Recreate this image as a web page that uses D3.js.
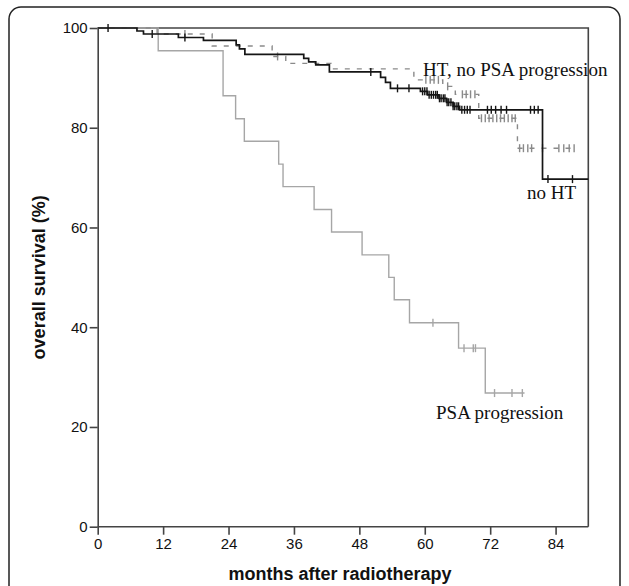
<!DOCTYPE html>
<html>
<head>
<meta charset="UTF-8">
<style>
  body { margin: 0; background: #fff; }
  .axis text { font-family: "Liberation Sans", Arial, sans-serif; font-size: 15px; fill: #111; }
  .axis path, .axis line { stroke: #444; stroke-width: 1.6px; }
  .title { font-family: "Liberation Sans", Arial, sans-serif; font-weight: bold; font-size: 18px; fill: #111; }
  .lbl { font-family: "Liberation Serif", "Times New Roman", serif; font-size: 19px; fill: #111; }
</style>
<script src="https://d3js.org/d3.v7.min.js"></script>
</head>
<body>
<svg width="629" height="586"></svg>
<script>
// month ticks and survival ticks
var xTicks = [0, 12, 24, 36, 48, 60, 72, 84];
var yTicks = [0, 20, 40, 60, 80, 100];

// no HT (black solid): [month, survival %]
var noHtSteps = [[0,100],[7.2,99.4],[8.4,98.8],[14.8,98.1],[19.4,97.5],[25.4,96.6],[26.0,95.8],[27.0,94.7],
  [37.8,93.9],[38.7,93.2],[40.0,92.6],[42.5,91.2],[51.9,90.1],[52.8,89.1],[53.7,87.9],[59.2,87.3],
  [60.5,86.6],[62.6,85.9],[64.0,85.1],[65.2,84.3],[66.4,83.6],[81.6,69.7]];
var noHtEnd = 90;
var noHtCens = [1.9,10.0,16.0,50.1,55.0,57.1,59.6,60.0,60.4,60.8,61.2,61.6,62.0,62.3,62.7,63.0,63.4,63.7,
  64.1,64.4,64.8,65.2,65.5,65.9,66.2,66.8,67.3,67.8,68.3,71.5,72.2,73.0,74.0,75.0,79.4,80.1,80.8,82.6,87.1];

// HT, no PSA progression (gray dashed)
var htSteps = [[0,100],[10.9,98.8],[21.0,96.4],[32.0,94.3],[34.5,92.9],[42.8,91.8],[58.0,89.6],
  [63.3,88.3],[65.6,86.7],[69.9,81.9],[77.0,75.9]];
var htEnd = 87.6;
var htCens = [16.0,33.0,60.2,61.0,61.7,62.5,64.2,66.9,67.6,68.4,69.2,70.4,71.1,71.8,72.5,73.2,73.9,
  74.6,75.3,76.0,76.6,77.4,78.1,78.9,79.6,81.6,84.6,85.5,86.5,87.4];

// PSA progression (gray solid)
var psaSteps = [[0,100],[11.1,95.45],[23.0,86.4],[25.3,81.8],[26.9,77.3],[33.2,72.7],[34.0,68.2],
  [39.7,63.6],[42.9,59.1],[48.5,54.5],[53.4,50.0],[54.4,45.5],[57.2,40.9],[66.2,35.8],[71.1,26.8]];
var psaEnd = 78.3;
var psaCens = [61.5,67.2,68.9,69.3,72.8,76.0,77.9];

var svg = d3.select("svg"),
    margin = {top: 28, left: 97.7},
    width = 490.6,
    height = 498.7;

var x = d3.scaleLinear().domain([0, 90]).range([0, width]),
    y = d3.scaleLinear().domain([0, 100]).range([height, 0]);

// outer rounded frame
svg.append("rect")
    .attr("x", 9).attr("y", 7)
    .attr("width", 611).attr("height", 620)
    .attr("rx", 12)
    .attr("fill", "none")
    .attr("stroke", "#222")
    .attr("stroke-width", 1.5);

var g = svg.append("g").attr("transform", `translate(${margin.left},${margin.top})`);

// plot box top and right
g.append("path")
    .attr("d", `M0,0H${width}V${height}`)
    .attr("fill", "none")
    .attr("stroke", "#444")
    .attr("stroke-width", 1.6);

g.append("g")
    .attr("class", "axis")
    .attr("transform", `translate(0,${height})`)
    .call(d3.axisBottom(x).tickValues(xTicks).tickSize(8).tickPadding(4).tickSizeOuter(0))
    .call(function(a){ a.select(".domain").attr("d", `M0,0H${width}`); });

g.append("g")
    .attr("class", "axis")
    .call(d3.axisLeft(y).tickValues(yTicks).tickSize(8).tickPadding(2).tickSizeOuter(0));

function survAt(steps, t) {
  var v = steps[0][1];
  steps.forEach(function(s){ if (s[0] <= t) v = s[1]; });
  return v;
}

var line = d3.line()
    .x(function(d){ return x(d[0]); })
    .y(function(d){ return y(d[1]); })
    .curve(d3.curveStepAfter);

function drawCurve(steps, end, cens, color, width, dash) {
  var pts = steps.concat([[end, steps[steps.length - 1][1]]]);
  g.append("path")
      .datum(pts)
      .attr("d", line)
      .attr("fill", "none")
      .attr("stroke", color)
      .attr("stroke-width", width)
      .attr("stroke-dasharray", dash);
  g.selectAll(null)
      .data(cens)
      .enter().append("line")
      .attr("x1", function(d){ return x(d); })
      .attr("x2", function(d){ return x(d); })
      .attr("y1", function(d){ return y(survAt(steps, d)) - 4; })
      .attr("y2", function(d){ return y(survAt(steps, d)) + 4; })
      .attr("stroke", color)
      .attr("stroke-width", 1.4);
}

drawCurve(psaSteps, psaEnd, psaCens, "#a6a6a6", 1.4, null);
drawCurve(htSteps, htEnd, htCens, "#8a8a8a", 1.4, "5,7");
drawCurve(noHtSteps, noHtEnd, noHtCens, "#151515", 1.7, null);

svg.append("text").attr("class", "lbl").attr("x", 423).attr("y", 76).text("HT, no PSA progression");
svg.append("text").attr("class", "lbl").attr("x", 527).attr("y", 199).text("no HT");
svg.append("text").attr("class", "lbl").attr("x", 436).attr("y", 419).text("PSA progression");

svg.append("text")
    .attr("class", "title")
    .attr("text-anchor", "middle")
    .attr("x", margin.left + width / 2 - 3)
    .attr("y", 580)
    .text("months after radiotherapy");

svg.append("text")
    .attr("class", "title")
    .attr("text-anchor", "middle")
    .attr("transform", `translate(45,${margin.top + height / 2}) rotate(-90)`)
    .text("overall survival (%)");
</script>
</body>
</html>
